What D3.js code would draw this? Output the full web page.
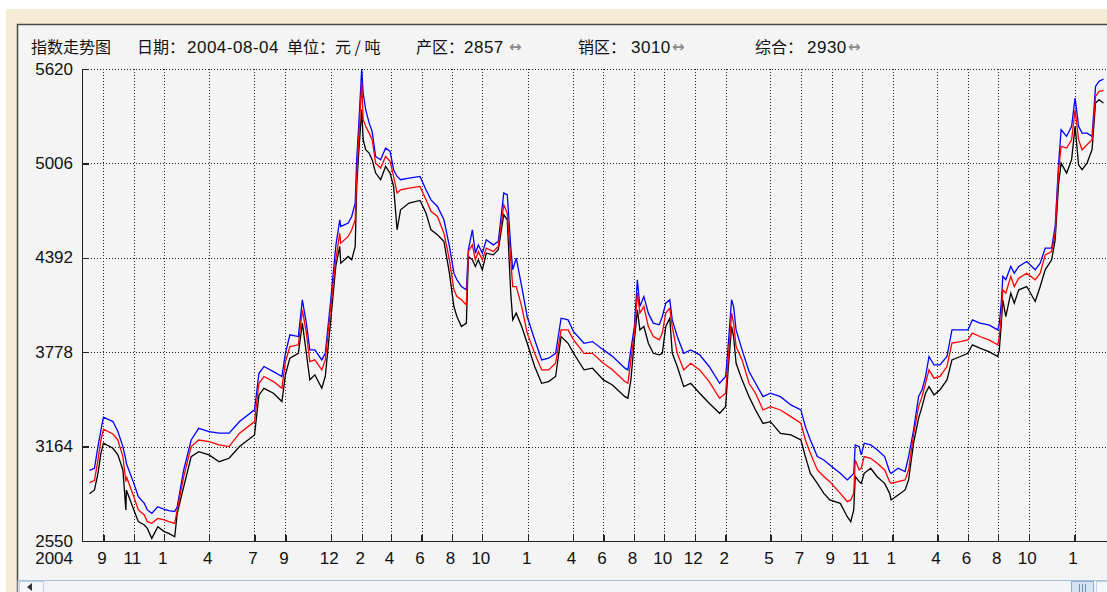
<!DOCTYPE html>
<html>
<head>
<meta charset="utf-8">
<script src="https://cdn.jsdelivr.net/npm/d3@7"></script>
<style>
  html, body { margin: 0; padding: 0; background: #fff; overflow: hidden; }
  svg { display: block; }
</style>
</head>
<body>
<script>
// sample dates (roughly every one to three weeks, denser around jumps)
const dates = [
  "2004-08-04","2004-08-14","2004-08-21","2004-08-27","2004-09-01","2004-09-20","2004-09-30","2004-10-10","2004-10-16","2004-10-17",
  "2004-11-01","2004-11-10","2004-11-22","2004-11-28","2004-12-07","2004-12-19","2005-01-01","2005-01-10","2005-01-22","2005-01-27",
  "2005-02-09","2005-02-24","2005-03-11","2005-04-01","2005-04-21","2005-05-11","2005-06-01","2005-07-01","2005-07-10","2005-07-20",
  "2005-08-08","2005-08-25","2005-09-01","2005-09-10","2005-09-27","2005-10-05","2005-10-13","2005-10-20","2005-10-30","2005-11-13",
  "2005-11-20","2005-12-01","2005-12-11","2005-12-19","2005-12-21","2006-01-05","2006-01-12","2006-01-19","2006-01-22","2006-01-26",
  "2006-02-01","2006-02-04","2006-02-09","2006-02-16","2006-02-22","2006-03-01","2006-03-11","2006-03-21","2006-03-30","2006-04-06",
  "2006-04-13","2006-04-20","2006-05-07","2006-05-29","2006-06-10","2006-06-20","2006-07-03","2006-07-16","2006-07-27","2006-08-05",
  "2006-08-11","2006-08-20","2006-08-30","2006-09-03","2006-09-11","2006-09-17","2006-09-23","2006-10-01","2006-10-09","2006-10-23",
  "2006-11-02","2006-11-13","2006-11-20","2006-11-27","2006-12-01","2006-12-08","2006-12-19","2006-12-30","2007-01-14","2007-01-28",
  "2007-02-11","2007-02-25","2007-03-08","2007-03-22","2007-04-02","2007-04-23","2007-05-10","2007-06-01","2007-06-19","2007-07-14",
  "2007-07-20","2007-07-26","2007-08-02","2007-08-08","2007-08-13","2007-08-21","2007-08-30","2007-09-09","2007-09-21","2007-09-27",
  "2007-10-04","2007-10-12","2007-10-17","2007-10-27","2007-11-09","2007-11-23","2007-12-11","2007-12-30","2008-01-20","2008-02-01",
  "2008-02-06","2008-02-13","2008-02-17","2008-02-22","2008-03-05","2008-03-19","2008-04-01","2008-04-16","2008-05-01","2008-05-21",
  "2008-06-11","2008-07-01","2008-07-10","2008-07-20","2008-08-03","2008-08-16","2008-08-28","2008-09-18","2008-10-02","2008-10-09",
  "2008-10-15","2008-10-18","2008-10-26","2008-10-30","2008-11-05","2008-11-18","2008-12-01","2008-12-16","2008-12-26","2008-12-29",
  "2009-01-12","2009-01-26","2009-02-02","2009-02-12","2009-02-22","2009-03-01","2009-03-08","2009-03-15","2009-03-25","2009-04-06",
  "2009-04-20","2009-04-30","2009-05-17","2009-06-01","2009-06-10","2009-06-25","2009-07-13","2009-07-31","2009-08-03","2009-08-07",
  "2009-08-10","2009-08-16","2009-08-26","2009-09-02","2009-09-11","2009-09-27","2009-10-14","2009-10-24","2009-11-03","2009-11-16",
  "2009-11-23","2009-11-30","2009-12-05","2009-12-16","2009-12-26","2010-01-02","2010-01-09","2010-01-16","2010-01-26","2010-02-05",
  "2010-02-12","2010-02-19","2010-02-28"
];

// 销区 (blue)
const xiaoqu = [
  3010,3023,3164,3272,3355,3327,3262,3164,3077,3055,
  2925,2838,2795,2752,2730,2773,2756,2747,2741,2773,
  3012,3207,3283,3262,3251,3251,3327,3403,3641,3685,
  3652,3620,3771,3891,3880,4119,3967,3793,3793,3728,
  3771,4119,4466,4639,4596,4618,4661,4748,5030,5247,
  5620,5464,5355,5268,5214,5051,5030,5106,5084,4965,
  4921,4900,4910,4921,4835,4769,4726,4639,4466,4292,
  4249,4205,4184,4444,4574,4422,4476,4422,4509,4476,
  4498,4813,4802,4466,4314,4390,4205,4010,3859,3728,
  3739,3771,3999,3988,3912,3836,3847,3793,3751,3674,
  3663,3793,3945,4249,4075,4140,4032,3967,3956,4010,
  4097,4119,3988,3880,3771,3793,3761,3685,3576,3620,
  3815,4119,4075,3923,3793,3652,3576,3489,3511,3489,
  3435,3403,3294,3207,3099,3077,3045,2990,2947,2969,
  2990,3175,3164,3110,3186,3175,3143,3099,3001,2990,
  3023,3001,3099,3272,3489,3533,3620,3750,3695,3695,
  3750,3923,3923,3923,3988,3967,3956,3923,3967,4097,
  4271,4249,4336,4292,4336,4368,4314,4357,4455,4455,
  4596,5008,5225,5182,5247,5431,5247,5203,5203,5182,
  5507,5540,5555
];

// 综合 (red)
const zonghe = [
  2930,2943,3077,3207,3277,3246,3207,3099,2936,2969,
  2838,2752,2719,2676,2665,2697,2687,2676,2665,2752,
  2969,3164,3207,3196,3175,3164,3251,3327,3576,3620,
  3587,3544,3717,3815,3826,4053,3902,3717,3728,3663,
  3728,4075,4379,4552,4487,4531,4574,4639,4921,5160,
  5529,5290,5247,5203,5160,5008,4976,5051,5019,4921,
  4813,4834,4845,4856,4769,4694,4661,4552,4379,4184,
  4140,4119,4086,4433,4476,4379,4433,4379,4455,4433,
  4466,4737,4683,4379,4205,4205,4075,3902,3771,3663,
  3663,3706,3923,3923,3858,3771,3771,3706,3664,3587,
  3576,3728,3902,4162,4032,4075,3945,3880,3858,3902,
  4032,4064,3945,3771,3663,3706,3663,3587,3478,3511,
  3728,4032,3967,3815,3728,3576,3511,3402,3424,3402,
  3359,3316,3207,3121,3012,2969,2936,2860,2806,2817,
  2860,3077,3012,3024,3099,3088,3056,3012,2936,2925,
  2936,2947,3012,3240,3424,3489,3576,3663,3609,3620,
  3685,3837,3847,3858,3902,3880,3858,3826,3880,4010,
  4184,4162,4271,4205,4260,4292,4249,4292,4411,4433,
  4552,4965,5117,5106,5160,5355,5160,5095,5127,5160,
  5442,5475,5481
];

// 产区 (black)
const chanqu = [
  2857,2882,2990,3121,3186,3153,3110,3012,2752,2882,
  2752,2676,2654,2632,2567,2643,2611,2600,2578,2730,
  2903,3099,3131,3110,3066,3088,3164,3240,3500,3543,
  3511,3457,3631,3739,3771,3967,3771,3598,3631,3544,
  3620,3988,4336,4466,4357,4401,4379,4466,4856,5073,
  5355,5160,5095,5073,5030,4943,4900,4986,4943,4856,
  4574,4704,4748,4765,4683,4574,4542,4498,4292,4075,
  4010,3945,3967,4401,4379,4336,4379,4314,4422,4411,
  4444,4672,4639,4162,3988,4032,3945,3836,3685,3576,
  3587,3620,3880,3836,3771,3663,3674,3598,3565,3489,
  3479,3598,3858,4053,3923,3945,3836,3771,3761,3771,
  3945,3999,3771,3685,3554,3576,3511,3446,3381,3424,
  3663,3945,3880,3706,3598,3489,3402,3315,3326,3250,
  3240,3207,3099,2990,2925,2860,2817,2795,2708,2676,
  2752,2969,2936,2925,2990,3023,2968,2925,2860,2817,
  2849,2882,2947,3186,3348,3424,3511,3554,3500,3533,
  3598,3728,3750,3771,3826,3804,3782,3750,3793,3967,
  4119,4010,4162,4097,4184,4205,4108,4205,4314,4379,
  4509,4878,5008,4943,5030,5247,4997,4965,5008,5095,
  5399,5420,5399
];

const yTicks = [2550, 3164, 3778, 4392, 5006, 5620];
const monthTicks = [
  "2004-09-01","2004-11-01","2005-01-01","2005-04-01","2005-07-01","2005-09-01","2005-12-01",
  "2006-02-01","2006-04-01","2006-06-01","2006-08-01","2006-10-01","2007-01-01","2007-04-01",
  "2007-06-01","2007-08-01","2007-10-01","2007-12-01","2008-02-01","2008-05-01","2008-07-01",
  "2008-09-01","2008-11-01","2009-01-01","2009-04-01","2009-06-01","2009-08-01","2009-10-01",
  "2010-01-01"
];
const startYear = "2004";

const W = 1107, H = 592;
const plot = { left: 82, right: 1107, top: 69, bottom: 541 };
const parse = d3.timeParse("%Y-%m-%d");
const numFont = "'Liberation Sans', Arial, sans-serif";
const cjkFont = "'Noto Sans CJK SC', sans-serif";

const svg = d3.select("body").append("svg")
  .attr("width", W)
  .attr("height", H);

// window frame: white edge, beige border, grey panel
svg.append("rect").attr("width", W).attr("height", H).attr("fill", "#ffffff");
svg.append("rect").attr("x", 6).attr("y", 9).attr("width", W - 6).attr("height", H - 9).attr("fill", "#f6ecd5");
svg.append("rect").attr("x", 17).attr("y", 24).attr("width", W - 17).attr("height", H - 24).attr("fill", "#f4f4f4");
svg.append("path")
  .attr("d", `M17.5,${H}V24.5H${W}`)
  .attr("fill", "none")
  .attr("stroke", "#4a4a4a")
  .attr("stroke-width", 1.5);

const x = d3.scaleTime()
  .domain([parse("2004-07-20"), parse("2010-03-07")])
  .range([plot.left, plot.right]);

const y = d3.scaleLinear()
  .domain([2550, 5620])
  .range([plot.bottom, plot.top]);

// dotted grid
const grid = svg.append("g")
  .attr("stroke", "#222")
  .attr("stroke-width", 1)
  .attr("stroke-dasharray", "1,2")
  .attr("shape-rendering", "crispEdges");

grid.selectAll("line.h")
  .data(yTicks.slice(1))
  .enter().append("line")
  .attr("class", "h")
  .attr("x1", plot.left).attr("x2", plot.right)
  .attr("y1", d => Math.round(y(d)) + 0.5).attr("y2", d => Math.round(y(d)) + 0.5);

grid.selectAll("line.v")
  .data(monthTicks.map(parse))
  .enter().append("line")
  .attr("class", "v")
  .attr("x1", d => Math.round(x(d)) + 0.5).attr("x2", d => Math.round(x(d)) + 0.5)
  .attr("y1", plot.top).attr("y2", plot.bottom);

// axes
const yAxis = d3.axisLeft(y)
  .tickValues(yTicks)
  .tickFormat(d3.format("d"))
  .tickSizeInner(-7)
  .tickSizeOuter(0)
  .tickPadding(9);

const xAxis = d3.axisBottom(x)
  .tickValues(monthTicks.map(parse))
  .tickFormat(d3.timeFormat("%-m"))
  .tickSizeInner(-6)
  .tickSizeOuter(0)
  .tickPadding(11);

const gy = svg.append("g")
  .attr("transform", `translate(${plot.left},0)`)
  .call(yAxis);

const gx = svg.append("g")
  .attr("transform", `translate(0,${plot.bottom})`)
  .call(xAxis);

[gy, gx].forEach(g => {
  g.selectAll("path, line")
    .attr("stroke", "#222")
    .attr("stroke-width", 1.3)
    .attr("shape-rendering", "crispEdges");
  g.selectAll("text")
    .attr("fill", "#111")
    .style("font-family", numFont)
    .style("font-size", "17px");
});
gx.selectAll("text").attr("dx", -2);
gy.selectAll("text").attr("dy", "0.3em");

svg.append("text")
  .attr("x", plot.left - 9)
  .attr("y", 564)
  .attr("text-anchor", "end")
  .attr("fill", "#111")
  .style("font-family", numFont)
  .style("font-size", "17px")
  .text(startYear);

// index lines
const series = [
  { name: "产区", values: chanqu, color: "#000000" },
  { name: "销区", values: xiaoqu, color: "#0000ff" },
  { name: "综合", values: zonghe, color: "#ff0000" }
];

const line = d3.line()
  .x((d, i) => x(parse(dates[i])))
  .y(d => y(d));

svg.append("g")
  .selectAll("path")
  .data(series)
  .enter().append("path")
  .attr("d", d => line(d.values))
  .attr("fill", "none")
  .attr("stroke", d => d.color)
  .attr("stroke-width", 1.3)
  .attr("stroke-linejoin", "miter");

// header
const header = svg.append("g").attr("fill", "#111");
const headerParts = [
  { t: "指数走势图", x: 31, f: cjkFont },
  { t: "日期：", x: 137, f: cjkFont },
  { t: "2004-08-04", x: 187, f: numFont },
  { t: "单位：元 / 吨", x: 287, f: cjkFont },
  { t: "产区：", x: 416, f: cjkFont },
  { t: "2857", x: 464, f: numFont },
  { t: "销区：", x: 578, f: cjkFont },
  { t: "3010", x: 631, f: numFont },
  { t: "综合：", x: 755, f: cjkFont },
  { t: "2930", x: 807, f: numFont }
];
header.selectAll("text")
  .data(headerParts)
  .enter().append("text")
  .attr("x", d => d.x)
  .attr("y", 53)
  .style("font-family", d => d.f)
  .style("font-size", d => d.f === numFont ? "17px" : "16px")
  .style("letter-spacing", d => d.f === numFont ? "0.5px" : "0px")
  .text(d => d.t);

// little grey double arrows after each value
header.selectAll("text.arrow")
  .data([509, 672, 848])
  .enter().append("text")
  .attr("class", "arrow")
  .attr("x", d => d)
  .attr("y", 52)
  .attr("fill", "#8a8a8a")
  .style("font-family", "'DejaVu Sans', sans-serif")
  .style("font-size", "15px")
  .style("font-weight", "bold")
  .text("↔");

// horizontal scrollbar at the bottom
const sb = svg.append("g");
sb.append("rect").attr("x", 18).attr("y", 580.5).attr("width", W - 18).attr("height", 12)
  .attr("fill", "#f2f4f7").attr("stroke", "#a9c0d8");
sb.append("rect").attr("x", 19.5).attr("y", 581.5).attr("width", 24).attr("height", 11)
  .attr("fill", "#f4f6f9").attr("stroke", "#c3d2e2");
sb.append("path").attr("d", "M27,587 L32,583 L32,591 Z").attr("fill", "#333");
sb.append("rect").attr("x", 1071.5).attr("y", 581.5).attr("width", 22).attr("height", 11)
  .attr("fill", "#d6e3f1").attr("stroke", "#8eaed0");
sb.selectAll("line.grip")
  .data([1079.5, 1082.5, 1085.5])
  .enter().append("line")
  .attr("x1", d => d).attr("x2", d => d)
  .attr("y1", 584).attr("y2", 592)
  .attr("stroke", "#6f8fb2");
sb.append("rect").attr("x", 1096.5).attr("y", 581.5).attr("width", 12).attr("height", 11)
  .attr("fill", "#f4f6f9").attr("stroke", "#c3d2e2");
</script>
</body>
</html>
